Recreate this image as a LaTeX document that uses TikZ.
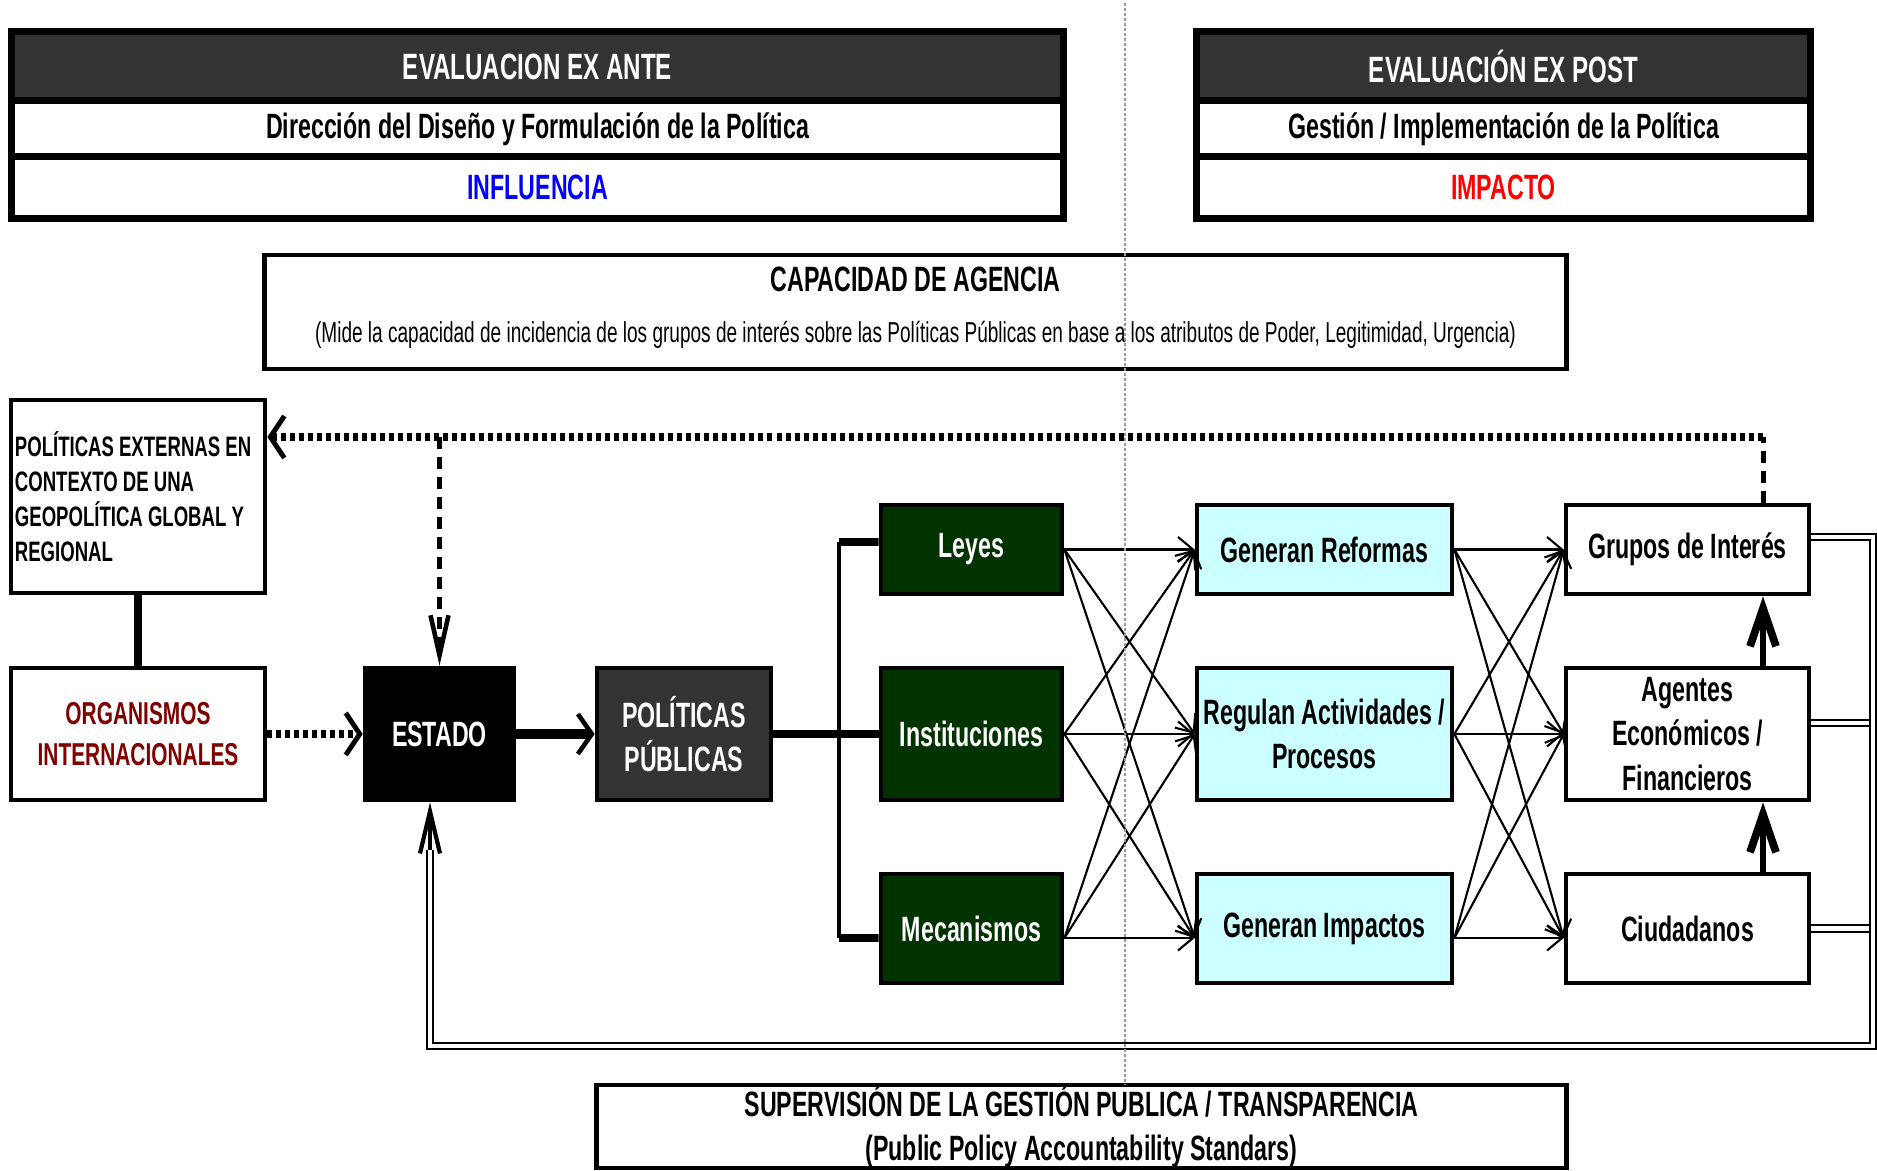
\documentclass[tikz,border=0pt]{standalone}
\usepackage{fontspec}
\setmainfont{Liberation Sans}[FakeStretch=0.66]
\usetikzlibrary{arrows.meta}
\definecolor{hdrgray}{HTML}{333333}
\definecolor{leygreen}{HTML}{003300}
\definecolor{regcyan}{HTML}{CCFFFF}
\definecolor{orgred}{HTML}{800000}

\begin{document}
\begin{tikzpicture}[x=0.01cm,y=-0.01cm,
  font=\fontsize{10}{12.6}\selectfont\bfseries,
  box/.style={draw,line width=1.3pt,align=center,inner sep=0pt},
  hdr/.style={box,line width=2pt,fill=hdrgray,text=white},
  hrow/.style={box,line width=2pt,fill=white},
  gbox/.style={box,fill=leygreen,text=white,minimum width=1.81cm},
  cbox/.style={box,fill=regcyan,minimum width=2.55cm},
  wbox/.style={box,fill=white,minimum width=2.43cm},
  thinarr/.style={line width=0.6pt,-{Straight Barb[length=0.15cm,width=0.25cm]}},
  bigarr/.style={line width=2.6pt,-{Straight Barb[length=0.14cm,width=0.4cm,line width=1.3pt]}},
  dotline/.style={line width=2.3pt,dash pattern=on 0.05cm off 0.04cm},
  dotarr/.style={dotline,-{Straight Barb[length=0.14cm,width=0.42cm,line width=1.4pt]}},
  dashline/.style={line width=1.4pt,dash pattern=on 0.12cm off 0.08cm},
  dasharr/.style={dashline,-{Straight Barb[length=0.4cm,width=0.18cm,line width=1.3pt]}},
  uparr/.style={line width=1.6pt,-{Straight Barb[length=0.38cm,width=0.26cm,line width=2.2pt]}},
  dline/.style={double,line width=0.6pt,double distance=1.3pt},
  stub/.style={line width=2.2pt},
  guide/.style={gray!80,line width=0.6pt,dash pattern=on 0.03cm off 0.02cm}]
  \useasboundingbox (0,0) rectangle (1877,1170);

  % evaluacion ex ante / ex post
  \node[hdr,minimum width=10.51cm,minimum height=0.69cm] (anteh) at (537.5,66.5) {\fontsize{10.4}{13}\selectfont EVALUACION EX ANTE};
  \node[hrow,minimum width=10.51cm,minimum height=0.56cm] (antedis) at (537.5,129) {Dirección del Diseño y Formulación de la Política};
  \node[hrow,minimum width=10.51cm,minimum height=0.61cm,text=blue] (anteinf) at (537.5,187.5) {INFLUENCIA};
  \node[hdr,minimum width=6.13cm,minimum height=0.69cm] (posth) at (1503.5,66.5) {\fontsize{10.4}{13}\selectfont EVALUACIÓN EX POST};
  \node[hrow,minimum width=6.13cm,minimum height=0.56cm] (postges) at (1503.5,129) {Gestión / Implementación de la Política};
  \node[hrow,minimum width=6.13cm,minimum height=0.61cm,text=red] (postimp) at (1503.5,187.5) {IMPACTO};

  % capacidad de agencia
  \node[box,minimum width=13.01cm,minimum height=1.14cm] (capac) at (915.5,312) {};
  \node (captit) at (915.5,279) {CAPACIDAD DE AGENCIA};
  \node[font=\fontsize{8.2}{10}\selectfont] (capsub) at (915.5,335) {(Mide la capacidad de incidencia de los grupos de interés sobre las Políticas Públicas en base a los atributos de Poder, Legitimidad, Urgencia)};

  % left column
  \node[box,align=left,text width=2.46cm,inner xsep=0.04cm,minimum height=1.93cm,font=\fontsize{8}{10}\selectfont\bfseries] (polext) at (138,496.5) {\spaceskip=0pt\xspaceskip=0pt POLÍTICAS EXTERNAS EN\\CONTEXTO DE UNA\\GEOPOLÍTICA GLOBAL Y\\REGIONAL};
  \node[box,minimum width=2.54cm,minimum height=1.32cm,text=orgred,font=\fontsize{9}{11.7}\selectfont\bfseries] (organismos) at (138,734) {ORGANISMOS\\INTERNACIONALES};
  \node[box,fill=black,text=white,minimum width=1.49cm,minimum height=1.32cm] (estado) at (439.5,734) {ESTADO};
  \node[box,fill=hdrgray,text=white,minimum width=1.74cm,minimum height=1.32cm] (pp) at (684,734) {POLÍTICAS\\PÚBLICAS};

  % instrumentos
  \node[gbox,minimum height=0.89cm] (leyes) at (971.5,549.5) {Leyes};
  \node[gbox,minimum height=1.32cm] (inst) at (971.5,734) {Instituciones};
  \node[gbox,minimum height=1.09cm] (mec) at (971.5,928.5) {Mecanismos};

  % efectos
  \node[cbox,minimum height=0.89cm] (gr) at (1324.5,549.5) {Generan Reformas};
  \node[cbox,minimum height=1.32cm] (reg) at (1324.5,734) {Regulan Actividades /\\Procesos};
  \node[cbox,minimum height=1.09cm] (gi) at (1324.5,928.5) {Generan Impactos};

  % actores
  \node[wbox,minimum height=0.89cm] (grupos) at (1687.5,549.5) {Grupos de Interés};
  \node[wbox,minimum height=1.32cm] (agentes) at (1687.5,734) {Agentes\\Económicos /\\Financieros};
  \node[wbox,minimum height=1.09cm] (ciud) at (1687.5,928.5) {Ciudadanos};

  \node[box,minimum width=9.69cm,minimum height=0.83cm] (superv) at (1081.5,1126.5) {SUPERVISIÓN DE LA GESTIÓN PUBLICA / TRANSPARENCIA\\(Public Policy Accountability Standars)};

  % retroalimentacion punteada
  \coordinate (topR) at (1763,437);
  \draw[dashline] (grupos.north -| topR) -- (topR);
  \draw[dotarr] (topR) -- (topR -| polext.east);
  \draw[dasharr] (topR -| estado) -- (estado.north);
  \draw[dotarr] (organismos) -- (estado);
  \draw[line width=2.3pt] (polext) -- (organismos);
  \draw[bigarr] (estado) -- (pp);

  % llave hacia los instrumentos
  \coordinate (brT) at (839,542);
  \coordinate (brB) at (839,938);
  \draw[stub] (pp) -- (inst);
  \draw[stub] (brT) -- ([yshift=.075cm]leyes.west);
  \draw[stub] (brB) -- ([yshift=-.095cm]mec.west);
  \draw[line width=1pt] (brT) -- (brB);

  \foreach \s/\a in {leyes/0,inst/0,mec/-0.095}
    \foreach \t/\b in {gr/0,reg/0,gi/-0.095}
      \draw[thinarr] ([yshift=\a cm]\s.east) -- ([yshift=\b cm]\t.west);
  \foreach \s/\a in {gr/0,reg/0,gi/-0.095}
    \foreach \t/\b in {grupos/0,agentes/0,ciud/-0.095}
      \draw[thinarr] ([yshift=\a cm]\s.east) -- ([yshift=\b cm]\t.west);

  \draw[uparr] (agentes.north -| topR) -- (grupos.south -| topR);
  \draw[uparr] (ciud.north -| topR) -- (agentes.south -| topR);

  % retorno doble hacia el estado
  \coordinate (fbR) at (1873,1046);
  \coordinate (fbL) at (430,1046);
  \coordinate (fbTip) at (430,850);
  \coordinate (gport) at ([yshift=0.125cm]grupos.east);
  \coordinate (aport) at ([yshift=0.11cm]agentes.east);
  \draw[dline] (aport) -- (aport -| fbR);
  \draw[dline] (ciud.east) -- (ciud.east -| fbR);
  \draw[dline] (gport) -| (fbR) -- (fbL) -- (fbTip);
  \draw[line width=1.2pt,-{Straight Barb[length=0.42cm,width=0.2cm,line width=1.2pt]}] (fbTip) -- (fbL |- estado.south);

  \draw[guide] (1125,3) -- (1125,1085);
\end{tikzpicture}
\end{document}
